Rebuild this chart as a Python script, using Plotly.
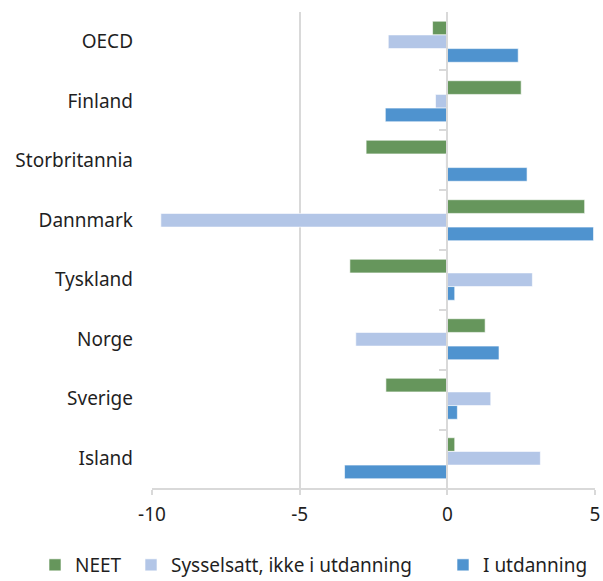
import plotly.graph_objects as go

# Categories, top to bottom
countries = ["OECD", "Finland", "Storbritannia", "Dannmark", "Tyskland", "Norge", "Sverige", "Island"]

# Change per group (percentage points)
neet = [-0.5, 2.5, -2.75, 4.65, -3.3, 1.28, -2.08, 0.25]
sysselsatt = [-2.0, -0.4, -0.05, -9.7, 2.88, -3.1, 1.47, 3.15]
i_utdanning = [2.4, -2.1, 2.7, 4.95, 0.25, 1.75, 0.34, -3.48]

x_ticks = [-10, -5, 0, 5]

series = [
    ("NEET", neet, "#66965c"),
    ("Sysselsatt, ikke i utdanning", sysselsatt, "#b3c6e7"),
    ("I utdanning", i_utdanning, "#4f93cf"),
]

font_family = "Noto Sans, Roboto, sans-serif"
text_color = "#1f1f1f"
grid_color = "#d9d9d9"
fsize = 19

x_min, x_max = -10, 5
left, right, top, bottom = 152, 8, 12, 93
plot_w = 603 - left - right
plot_h = 581 - top - bottom

# Each legend entry gets its own legend box so the entries can be spaced freely
legend_ids = ["legend", "legend2", "legend3"]
legend_left_px = [35, 131, 443]

fig = go.Figure()
for (name, vals, color), lid in zip(series, legend_ids):
    fig.add_trace(go.Bar(
        x=vals, y=countries, orientation="h", name=name, legend=lid,
        marker=dict(color=color, line=dict(color="rgba(255,255,255,0.6)", width=1)),
    ))

# Helper trace carrying the category axis that sits at x = 0
fig.add_trace(go.Scatter(
    x=[0] * len(countries), y=countries, yaxis="y2", mode="markers",
    marker=dict(opacity=0), showlegend=False, hoverinfo="skip",
))

legend_y = -(565 - (581 - bottom)) / plot_h
legends = {}
for lid, px in zip(legend_ids, legend_left_px):
    legends[lid] = dict(
        orientation="h",
        x=(px - left) / plot_w, xanchor="left",
        y=legend_y, yanchor="middle",
        font=dict(size=fsize, color=text_color),
        bgcolor="rgba(0,0,0,0)",
    )

fig.update_layout(
    width=603, height=581,
    margin=dict(l=left, r=right, t=top, b=bottom, autoexpand=False),
    paper_bgcolor="white", plot_bgcolor="white",
    barmode="group", bargap=0.31, bargroupgap=0,
    font=dict(family=font_family, size=fsize, color=text_color),
    xaxis=dict(
        range=[x_min, x_max], tickvals=x_ticks, ticktext=[str(t) for t in x_ticks],
        showgrid=True, gridcolor=grid_color, gridwidth=2,
        zeroline=False, showline=True, linecolor=grid_color, linewidth=2,
        ticks="outside", ticklen=5, tickcolor=grid_color, tickwidth=2,
        ticklabelstandoff=3, tickfont=dict(size=fsize, color=text_color),
    ),
    yaxis=dict(
        categoryorder="array", categoryarray=countries, autorange="reversed",
        showgrid=False, zeroline=False, showline=False, ticks="",
        ticklabelstandoff=18, tickfont=dict(size=fsize, color=text_color),
    ),
    yaxis2=dict(
        overlaying="y", anchor="free", position=(0 - x_min) / (x_max - x_min),
        categoryorder="array", categoryarray=countries, autorange="reversed",
        showticklabels=False, showgrid=False, zeroline=False,
        showline=True, linecolor=grid_color, linewidth=2,
        ticks="outside", tickson="boundaries", ticklen=7,
        tickcolor=grid_color, tickwidth=2,
    ),
    showlegend=True,
    **legends,
)

fig.write_html("out.html")
